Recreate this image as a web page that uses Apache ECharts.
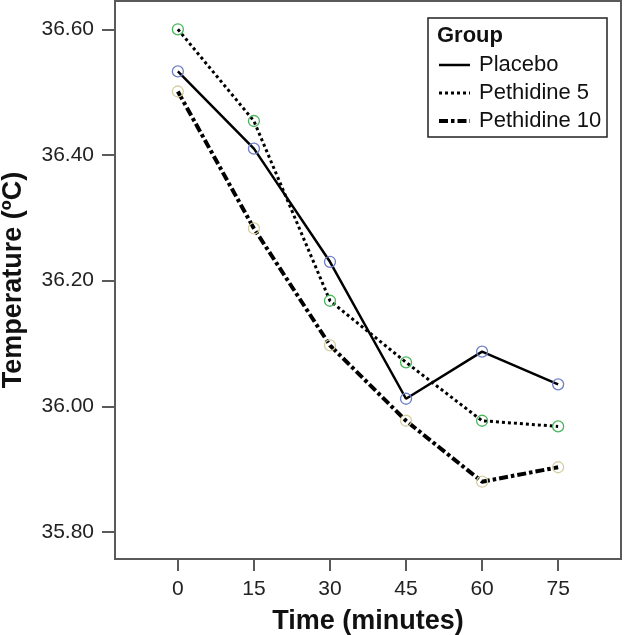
<!DOCTYPE html>
<html>
<head>
<meta charset="utf-8">
<script src="https://cdn.jsdelivr.net/npm/echarts@6/dist/echarts.min.js"></script>
<style>
  html, body { margin: 0; padding: 0; background: #fff; }
  #chart { width: 624px; height: 635px; }
</style>
</head>
<body>
<div id="chart"></div>
<script>
// time points (minutes)
const times = [0, 15, 30, 45, 60, 75];
const yTicks = [35.8, 36.0, 36.2, 36.4, 36.6];
const groups = ['Placebo', 'Pethidine 5', 'Pethidine 10'];

// mean temperature per group
const placebo = [36.533, 36.410, 36.230, 36.012, 36.087, 36.035];
const pethidine5 = [36.600, 36.454, 36.168, 36.070, 35.977, 35.968];
const pethidine10 = [36.501, 36.283, 36.097, 35.977, 35.880, 35.903];

const font = 'Liberation Sans, Arial, sans-serif';
const dotted = [3, 3];
const dashDot = [9, 3, 3.5, 3];

function pairs(vals) {
  return times.map((t, i) => [t, vals[i]]);
}

function makeSeries(name, vals, markerColor, lineType, width) {
  return {
    name: name,
    type: 'line',
    data: pairs(vals),
    symbol: 'circle',
    symbolSize: 11,
    itemStyle: {
      color: 'rgba(255,255,255,0)',
      borderColor: markerColor,
      borderWidth: 1.3
    },
    lineStyle: { color: '#000', width: width, type: lineType },
    emphasis: { disabled: true },
    z: 3
  };
}

const chart = echarts.init(document.getElementById('chart'));

chart.setOption({
  animation: false,
  grid: {
    left: 115, top: 1, right: 3, bottom: 76,
    outerBoundsMode: 'none',
    containLabel: false,
    show: true, borderColor: '#5a5a5a', borderWidth: 2
  },
  xAxis: {
    type: 'value',
    min: -12.4, max: 87.4,
    name: 'Time (minutes)',
    nameLocation: 'middle',
    nameGap: 49,
    nameTextStyle: { fontFamily: font, fontSize: 27, fontWeight: 'bold', color: '#111' },
    axisLine: { show: true, onZero: false, lineStyle: { color: '#5a5a5a', width: 2 } },
    axisTick: { show: true, length: 12, lineStyle: { color: '#5a5a5a', width: 2 }, customValues: times },
    axisLabel: { margin: 20, fontFamily: font, fontSize: 21, color: '#222', customValues: times },
    splitLine: { show: false }
  },
  yAxis: {
    type: 'value',
    min: 35.757, max: 36.645,
    name: 'Temperature (ºC)',
    nameLocation: 'middle',
    nameGap: 88,
    nameTextStyle: { fontFamily: font, fontSize: 27, fontWeight: 'bold', color: '#111' },
    axisLine: { show: true, onZero: false, lineStyle: { color: '#5a5a5a', width: 2 } },
    axisTick: { show: true, length: 13, lineStyle: { color: '#5a5a5a', width: 2 }, customValues: yTicks },
    axisLabel: {
      margin: 21, fontFamily: font, fontSize: 21, color: '#222',
      customValues: yTicks,
      formatter: v => v.toFixed(2)
    },
    splitLine: { show: false }
  },
  legend: {
    orient: 'vertical',
    left: 437, top: 54,
    padding: 0,
    itemWidth: 31, itemHeight: 14, itemGap: 6,
    itemStyle: { opacity: 0 },
    textStyle: { fontFamily: font, fontSize: 22, color: '#111', lineHeight: 22, padding: [0, 0, 0, 4] },
    selectedMode: false,
    data: [
      { name: groups[0], lineStyle: { width: 2.5, type: 'solid' } },
      { name: groups[1], lineStyle: { width: 3, type: dotted } },
      { name: groups[2], lineStyle: { width: 4, type: dashDot } }
    ]
  },
  graphic: [
    {
      type: 'rect',
      shape: { x: 428, y: 18, width: 179, height: 119 },
      style: { fill: 'rgba(255,255,255,0)', stroke: '#222', lineWidth: 1.5 },
      z: 10
    },
    {
      type: 'text',
      left: 437, top: 25,
      style: { text: 'Group', font: 'bold 22px ' + font, fill: '#111' },
      z: 10
    }
  ],
  series: [
    makeSeries(groups[0], placebo, '#6f7fc6', 'solid', 2.5),
    makeSeries(groups[1], pethidine5, '#49b55a', dotted, 3),
    makeSeries(groups[2], pethidine10, '#d6cfa3', dashDot, 4)
  ]
});
</script>
</body>
</html>
